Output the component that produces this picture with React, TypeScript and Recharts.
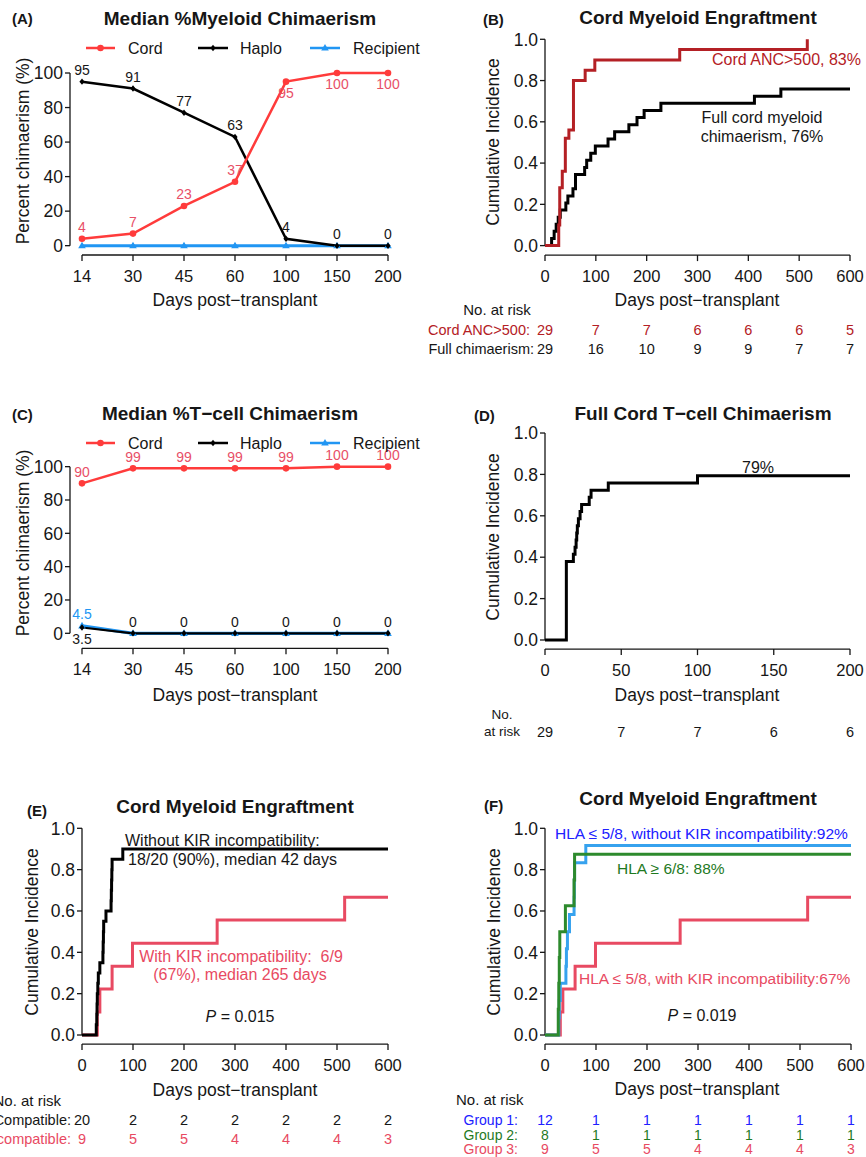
import React from 'react';
import { LineChart, Line, XAxis, YAxis, ReferenceLine } from 'recharts';

const FONT = '"Liberation Sans", Arial, Helvetica, sans-serif';
const INK = '#161616';
const CORD_LINE = '#ff3b3b';
const CORD_TEXT = '#e84f67';
const RECIP_LINE = '#2196f3';
const ANC_RED = '#b42025';
const KIR_RED = '#e84a62';
const G1_LINE = '#36a2ee';
const G1_TEXT = '#2020ff';
const G2_LINE = '#2d8a2d';
const G2_TEXT = '#1f7a1f';

// (A) / (C) median chimaerism per visit
const visitDays = ['14', '30', '45', '60', '100', '150', '200'];
const myeloidCord = [4, 7, 23, 37, 95, 100, 100];
const myeloidHaplo = [95, 91, 77, 63, 4, 0, 0];
const myeloidRecipient = [0, 0, 0, 0, 0, 0, 0];
const tcellCord = [90, 99, 99, 99, 99, 100, 100];
const tcellHaplo = [3.5, 0, 0, 0, 0, 0, 0];
const tcellRecipient = [4.5, 0, 0, 0, 0, 0, 0];
const pctTicks = [0, 20, 40, 60, 80, 100];

// (B) cord myeloid engraftment: step times (days) and cumulative incidence
const ancDays = [0, 27, 29, 34, 40, 47, 56, 79, 98, 265, 516];
const ancCI = [0, 0.1, 0.28, 0.36, 0.52, 0.56, 0.8, 0.85, 0.9, 0.95, 1.0];
const fullMyeloidDays = [0, 13, 18, 22, 26, 30, 41, 45, 55, 60, 78, 82, 90, 99, 124, 137, 165, 181, 195, 228, 412, 464, 600];
const fullMyeloidCI = [0, 0.034, 0.069, 0.103, 0.138, 0.172, 0.207, 0.241, 0.276, 0.345, 0.379, 0.414, 0.448, 0.483, 0.517, 0.552, 0.586, 0.621, 0.655, 0.69, 0.724, 0.759, 0.759];
const days600 = [0, 100, 200, 300, 400, 500, 600];
const ancAtRisk = [29, 7, 7, 6, 6, 6, 5];
const fullAtRisk = [29, 16, 10, 9, 9, 7, 7];

// (D) full cord T-cell chimaerism
const tcellDays = [0, 14, 18.6, 19.7, 20.4, 20.8, 21.2, 21.9, 23, 24, 29, 30.2, 41.5, 100, 200];
const tcellCI = [0, 0.379, 0.414, 0.448, 0.483, 0.517, 0.552, 0.586, 0.621, 0.655, 0.69, 0.724, 0.759, 0.793, 0.793];
const days200 = [0, 50, 100, 150, 200];
const tcellAtRisk = [29, 7, 7, 6, 6];

// (E) by KIR incompatibility
const kirCompDays = [0, 28, 29, 29.5, 30, 31, 32, 35, 41, 41.5, 42, 42.5, 47, 57, 57.5, 58, 58.5, 59, 80, 600];
const kirCompCI = [0, 0.05, 0.1, 0.15, 0.2, 0.25, 0.3, 0.35, 0.4, 0.45, 0.5, 0.55, 0.6, 0.65, 0.7, 0.75, 0.8, 0.85, 0.9, 0.9];
const kirIncompDays = [0, 30, 35, 59, 99, 265, 515, 600];
const kirIncompCI = [0, 0.111, 0.222, 0.333, 0.444, 0.556, 0.667, 0.667];
const compAtRisk = [20, 2, 2, 2, 2, 2, 2];
const incompAtRisk = [9, 5, 5, 4, 4, 4, 3];

// (F) by HLA match group (group 3 = HLA <= 5/8 with KIR incompatibility)
const group1Days = [0, 27, 28, 30, 41, 42, 44, 48, 57, 57.5, 58, 80, 600];
const group1CI = [0, 0.083, 0.167, 0.25, 0.333, 0.417, 0.5, 0.583, 0.667, 0.75, 0.833, 0.917, 0.917];
const group2Days = [0, 26, 27, 28, 29, 40, 57, 58, 600];
const group2CI = [0, 0.125, 0.25, 0.375, 0.5, 0.625, 0.75, 0.875, 0.875];
const group1AtRisk = [12, 1, 1, 1, 1, 1, 1];
const group2AtRisk = [8, 1, 1, 1, 1, 1, 1];
const group3AtRisk = [9, 5, 5, 4, 4, 4, 3];

const ciTicks = [0, 0.2, 0.4, 0.6, 0.8, 1];

const steps = (t: number[], v: number[]) => t.map((d, i) => ({ t: d, v: v[i] }));
const visits = (cord: number[], haplo: number[], recipient: number[]) =>
  visitDays.map((day, i) => ({ day, cord: cord[i], haplo: haplo[i], recipient: recipient[i] }));

type Shape = 'circle' | 'diamond' | 'triangle';
type Place = 'above' | 'below' | null;

function marker(shape: Shape, cx: number, cy: number, color: string) {
  if (shape === 'circle') return <circle cx={cx} cy={cy} r={3.3} fill={color} />;
  if (shape === 'diamond')
    return <polygon points={`${cx},${cy - 3.2} ${cx + 2.6},${cy} ${cx},${cy + 3.2} ${cx - 2.6},${cy}`} fill={color} />;
  return <polygon points={`${cx},${cy - 4} ${cx + 3.8},${cy + 2.6} ${cx - 3.8},${cy + 2.6}`} fill={color} />;
}

interface VisitSeries {
  key: 'cord' | 'haplo' | 'recipient';
  color: string;
  text: string;
  width: number;
  shape: Shape;
  place: (i: number) => Place;
}

function makeDot(s: VisitSeries) {
  return (p: any) => {
    const { cx, cy, index, payload } = p;
    if (cx == null || cy == null) return <g key={`e${index}`} />;
    const where = s.place(index);
    return (
      <g key={`${s.key}${index}`}>
        {marker(s.shape, cx, cy, s.color)}
        {where && (
          <text
            x={cx}
            y={where === 'above' ? cy - 11.5 : cy + 11.5}
            dy="0.35em"
            textAnchor="middle"
            fontSize={14}
            fill={s.text}
          >
            {payload[s.key]}
          </text>
        )}
      </g>
    );
  };
}

function YTick(p: any) {
  const { x, y, payload, off, digits } = p;
  const ax = x - off;
  const label = digits ? Number(payload.value).toFixed(digits) : String(payload.value);
  return (
    <g>
      <line x1={ax} x2={ax - 5} y1={y} y2={y} stroke={INK} strokeWidth={1.3} />
      <text x={ax - 7} y={y} dy="0.36em" textAnchor="end" fontSize={17.5} fill={INK}>
        {label}
      </text>
    </g>
  );
}

const axisStroke = { stroke: INK, strokeWidth: 1.3 };

function ChimaerismPanel(props: {
  left: number;
  top: number;
  height: number;
  marginTop: number;
  marginBottom: number;
  yMin: number;
  data: ReturnType<typeof visits>;
  series: VisitSeries[];
}) {
  const { left, top, height, marginTop, marginBottom, yMin, data, series } = props;
  return (
    <div style={{ position: 'absolute', left, top }}>
      <LineChart
        width={430}
        height={height}
        data={data}
        margin={{ top: marginTop, right: 42, bottom: marginBottom, left: 22 }}
      >
        <XAxis
          dataKey="day"
          type="category"
          interval={0}
          height={30}
          tickSize={6}
          tickMargin={9}
          axisLine={axisStroke}
          tickLine={axisStroke}
          tick={{ fill: INK, fontSize: 16.5 }}
        />
        <YAxis
          type="number"
          domain={[yMin, 104]}
          ticks={pctTicks}
          interval={0}
          width={60}
          axisLine={false}
          tickLine={false}
          tickSize={0}
          tickMargin={0}
          tick={(p: any) => <YTick {...p} off={12} digits={0} />}
        />
        <ReferenceLine
          segment={[
            { x: '14', y: 0 },
            { x: '14', y: 100 },
          ]}
          ifOverflow="visible"
          shape={(p: any) => (
            <line x1={p.x1 - 12} y1={p.y1} x2={p.x2 - 12} y2={p.y2} stroke={INK} strokeWidth={1.3} />
          )}
        />
        {series.map((s) => (
          <Line
            key={s.key}
            dataKey={s.key}
            type="linear"
            stroke={s.color}
            strokeWidth={s.width}
            dot={makeDot(s)}
            activeDot={false}
            isAnimationActive={false}
          />
        ))}
      </LineChart>
    </div>
  );
}

interface RiskRow {
  label: string;
  values: number[];
  color: string;
  gap: number;
  h: number;
  size: number;
}

const riskTick = (row: RiskRow) => (p: any) => {
  const { x, y, index } = p;
  const cy = y + 10;
  return (
    <g>
      {index === 0 && row.label && (
        <text x={x - row.gap} y={cy} dy="0.35em" textAnchor="end" fontSize={row.size} fill={row.color}>
          {row.label}
        </text>
      )}
      <text x={x} y={cy} dy="0.35em" textAnchor="middle" fontSize={row.size} fill={row.color}>
        {row.values[index]}
      </text>
    </g>
  );
};

interface CurveDef {
  name: string;
  data: { t: number; v: number }[];
  color: string;
}

function KMPanel(props: {
  left: number;
  top: number;
  width: number;
  height: number;
  margin: { top: number; right: number; bottom: number; left: number };
  yMin: number;
  xMax: number;
  xTicks: number[];
  mainH: number;
  curves: CurveDef[];
  rows: RiskRow[];
}) {
  const { left, top, width, height, margin, yMin, xMax, xTicks, mainH, curves, rows } = props;
  return (
    <div style={{ position: 'absolute', left, top }}>
      <LineChart width={width} height={height} margin={margin}>
        <XAxis
          xAxisId="main"
          type="number"
          dataKey="t"
          domain={[0, xMax]}
          ticks={xTicks}
          interval={0}
          height={mainH}
          tickSize={6}
          tickMargin={9}
          axisLine={axisStroke}
          tickLine={axisStroke}
          tick={{ fill: INK, fontSize: 16.5 }}
        />
        {rows.map((r, i) => (
          <XAxis
            key={`risk${i}`}
            xAxisId={`risk${i}`}
            type="number"
            dataKey="t"
            domain={[0, xMax]}
            allowDataOverflow
            ticks={xTicks}
            interval={0}
            height={r.h}
            axisLine={false}
            tickLine={false}
            tickSize={0}
            tickMargin={0}
            tick={riskTick(r)}
          />
        ))}
        <YAxis
          type="number"
          domain={[yMin, 1.03]}
          ticks={ciTicks}
          interval={0}
          width={60}
          axisLine={false}
          tickLine={false}
          tickSize={0}
          tickMargin={0}
          tick={(p: any) => <YTick {...p} off={0} digits={1} />}
        />
        <ReferenceLine
          xAxisId="main"
          segment={[
            { x: 0, y: 0 },
            { x: 0, y: 1 },
          ]}
          stroke={INK}
          strokeWidth={1.3}
          ifOverflow="visible"
        />
        {curves.map((c) => (
          <Line
            key={c.name}
            xAxisId="main"
            data={c.data}
            dataKey="v"
            name={c.name}
            type="stepAfter"
            stroke={c.color}
            strokeWidth={3}
            dot={false}
            activeDot={false}
            isAnimationActive={false}
          />
        ))}
      </LineChart>
    </div>
  );
}

function T(props: {
  x: number;
  y: number;
  children: React.ReactNode;
  size?: number;
  anchor?: 'start' | 'middle' | 'end';
  color?: string;
  bold?: boolean;
  rotate?: boolean;
}) {
  const { x, y, children, size = 16, anchor = 'middle', color = INK, bold, rotate } = props;
  return (
    <text
      x={x}
      y={y}
      fontSize={size}
      textAnchor={anchor}
      fill={color}
      fontWeight={bold ? 700 : 400}
      dominantBaseline="central"
      transform={rotate ? `rotate(-90 ${x} ${y})` : undefined}
      style={{ whiteSpace: 'pre' }}
    >
      {children}
    </text>
  );
}

function VisitLegend({ y }: { y: number }) {
  const items = [
    { x1: 86, x2: 115, tx: 128, label: 'Cord', shape: 'circle' as Shape, color: CORD_LINE },
    { x1: 198, x2: 228, tx: 240, label: 'Haplo', shape: 'diamond' as Shape, color: '#000' },
    { x1: 310, x2: 340, tx: 353, label: 'Recipient', shape: 'triangle' as Shape, color: RECIP_LINE },
  ];
  return (
    <g>
      {items.map((it) => (
        <g key={it.label}>
          <line x1={it.x1} x2={it.x2} y1={y} y2={y} stroke={it.color} strokeWidth={2.5} />
          {marker(it.shape, (it.x1 + it.x2) / 2, y, it.color)}
          <T x={it.tx} y={y} anchor="start" size={16}>
            {it.label}
          </T>
        </g>
      ))}
    </g>
  );
}

function Overlay() {
  const days = 'Days post\u2212transplant';
  return (
    <svg
      width={866}
      height={1157}
      style={{ position: 'absolute', left: 0, top: 0, pointerEvents: 'none' }}
      fontFamily={FONT}
    >
      {/* panel letters and titles */}
      <T x={12} y={18} anchor="start" size={15} bold>(A)</T>
      <T x={240} y={18} size={19} bold>Median %Myeloid Chimaerism</T>
      <T x={483} y={19} anchor="start" size={15} bold>(B)</T>
      <T x={698} y={17} size={19} bold>Cord Myeloid Engraftment</T>
      <T x={12} y={414} anchor="start" size={15} bold>(C)</T>
      <T x={230} y={413} size={19} bold>Median %T{'\u2212'}cell Chimaerism</T>
      <T x={474} y={415} anchor="start" size={15} bold>(D)</T>
      <T x={703} y={413} size={19} bold>Full Cord T{'\u2212'}cell Chimaerism</T>
      <T x={27} y={810} anchor="start" size={15} bold>(E)</T>
      <T x={235} y={806} size={19} bold>Cord Myeloid Engraftment</T>
      <T x={484} y={805} anchor="start" size={15} bold>(F)</T>
      <T x={698} y={798} size={19} bold>Cord Myeloid Engraftment</T>

      <VisitLegend y={48} />
      <VisitLegend y={443} />

      {/* axis titles */}
      <T x={23} y={151} size={17.5} rotate>Percent chimaerism (%)</T>
      <T x={23} y={543} size={17.5} rotate>Percent chimaerism (%)</T>
      <T x={493} y={142} size={17.5} rotate>Cumulative Incidence</T>
      <T x={493} y={537} size={17.5} rotate>Cumulative Incidence</T>
      <T x={32} y={932} size={17.5} rotate>Cumulative Incidence</T>
      <T x={494} y={932} size={17.5} rotate>Cumulative Incidence</T>
      <T x={235} y={300} size={17.5}>{days}</T>
      <T x={697} y={300} size={17.5}>{days}</T>
      <T x={235} y={695} size={17.5}>{days}</T>
      <T x={697} y={695} size={17.5}>{days}</T>
      <T x={235} y={1090} size={17.5}>{days}</T>
      <T x={697} y={1089} size={17.5}>{days}</T>

      {/* at-risk headers */}
      <T x={497} y={309} size={15}>No. at risk</T>
      <T x={502} y={714} size={13.5}>No.</T>
      <T x={502} y={731} size={13.5}>at risk</T>
      <T x={61} y={1100} anchor="end" size={15}>No. at risk</T>
      <T x={456} y={1099} anchor="start" size={15}>No. at risk</T>

      {/* curve annotations */}
      <T x={712} y={59} anchor="start" color={ANC_RED}>Cord ANC&gt;500, 83%</T>
      <T x={762} y={117}>Full cord myeloid</T>
      <T x={762} y={136}>chimaerism, 76%</T>
      <T x={758} y={467}>79%</T>
      <T x={125} y={840} anchor="start">Without KIR incompatibility:</T>
      <T x={128} y={859} anchor="start">18/20 (90%), median 42 days</T>
      <T x={241} y={956} color={KIR_RED}>With KIR incompatibility:  6/9</T>
      <T x={240} y={974} color={KIR_RED}>(67%), median 265 days</T>
      <T x={240} y={1016}>
        <tspan fontStyle="italic">P</tspan> = 0.015
      </T>
      <T x={555} y={833} anchor="start" size={15.5} color={G1_TEXT}>
        HLA {'\u2264'} 5/8, without KIR incompatibility:92%
      </T>
      <T x={617} y={868} anchor="start" size={15.5} color={G2_TEXT}>
        HLA {'\u2265'} 6/8: 88%
      </T>
      <T x={579} y={978} anchor="start" size={15.5} color={KIR_RED}>
        HLA {'\u2264'} 5/8, with KIR incompatibility:67%
      </T>
      <T x={702} y={1015}>
        <tspan fontStyle="italic">P</tspan> = 0.019
      </T>
    </svg>
  );
}

export default function App() {
  const myeloidData = visits(myeloidCord, myeloidHaplo, myeloidRecipient);
  const tcellData = visits(tcellCord, tcellHaplo, tcellRecipient);

  const myeloidSeries: VisitSeries[] = [
    { key: 'recipient', color: RECIP_LINE, text: RECIP_LINE, width: 3, shape: 'triangle', place: () => null },
    { key: 'haplo', color: '#000', text: INK, width: 2.5, shape: 'diamond', place: () => 'above' },
    { key: 'cord', color: CORD_LINE, text: CORD_TEXT, width: 2.5, shape: 'circle', place: (i) => (i >= 4 ? 'below' : 'above') },
  ];
  const tcellSeries: VisitSeries[] = [
    { key: 'recipient', color: RECIP_LINE, text: RECIP_LINE, width: 3.2, shape: 'triangle', place: (i) => (i === 0 ? 'above' : null) },
    { key: 'haplo', color: '#000', text: INK, width: 2.2, shape: 'diamond', place: (i) => (i === 0 ? 'below' : 'above') },
    { key: 'cord', color: CORD_LINE, text: CORD_TEXT, width: 2.5, shape: 'circle', place: () => 'above' },
  ];

  return (
    <div
      style={{
        position: 'absolute',
        left: 0,
        top: 0,
        width: 866,
        height: 1157,
        background: '#fff',
        fontFamily: FONT,
        overflow: 'hidden',
      }}
    >
      <ChimaerismPanel
        left={0}
        top={0}
        height={390}
        marginTop={66.1}
        marginBottom={105}
        yMin={-5.4}
        data={myeloidData}
        series={myeloidSeries}
      />
      <ChimaerismPanel
        left={0}
        top={390}
        height={380}
        marginTop={70}
        marginBottom={91.7}
        yMin={-9}
        data={tcellData}
        series={tcellSeries}
      />
      <KMPanel
        left={420}
        top={0}
        width={446}
        height={390}
        margin={{ top: 33.1, right: 16, bottom: 31.9, left: 65 }}
        yMin={-0.046}
        xMax={600}
        xTicks={days600}
        mainH={65}
        curves={[
          { name: 'full', data: steps(fullMyeloidDays, fullMyeloidCI), color: '#000' },
          { name: 'anc', data: steps(ancDays, ancCI), color: ANC_RED },
        ]}
        rows={[
          { label: 'Cord ANC>500:', values: ancAtRisk, color: ANC_RED, gap: 15, h: 19, size: 14.5 },
          { label: 'Full chimaerism:', values: fullAtRisk, color: INK, gap: 11, h: 19, size: 14.5 },
        ]}
      />
      <KMPanel
        left={420}
        top={390}
        width={446}
        height={380}
        margin={{ top: 36.8, right: 16, bottom: 28.9, left: 65 }}
        yMin={-0.044}
        xMax={200}
        xTicks={days200}
        mainH={73}
        curves={[{ name: 'tcell', data: steps(tcellDays, tcellCI), color: '#000' }]}
        rows={[{ label: '', values: tcellAtRisk, color: INK, gap: 0, h: 19, size: 14.5 }]}
      />
      <KMPanel
        left={0}
        top={770}
        width={430}
        height={387}
        margin={{ top: 52.1, right: 42, bottom: 8.9, left: 22 }}
        yMin={-0.044}
        xMax={600}
        xTicks={days600}
        mainH={66}
        curves={[
          { name: 'incomp', data: steps(kirIncompDays, kirIncompCI), color: KIR_RED },
          { name: 'comp', data: steps(kirCompDays, kirCompCI), color: '#000' },
        ]}
        rows={[
          { label: 'Compatible:', values: compAtRisk, color: INK, gap: 11, h: 19, size: 14.5 },
          { label: 'Incompatible:', values: incompAtRisk, color: KIR_RED, gap: 11, h: 19, size: 14.5 },
        ]}
      />
      <KMPanel
        left={420}
        top={770}
        width={446}
        height={387}
        margin={{ top: 52.1, right: 15, bottom: 3.4, left: 65 }}
        yMin={-0.044}
        xMax={600}
        xTicks={days600}
        mainH={66}
        curves={[
          { name: 'g3', data: steps(kirIncompDays, kirIncompCI), color: KIR_RED },
          { name: 'g1', data: steps(group1Days, group1CI), color: G1_LINE },
          { name: 'g2', data: steps(group2Days, group2CI), color: G2_LINE },
        ]}
        rows={[
          { label: 'Group 1:', values: group1AtRisk, color: G1_TEXT, gap: 27, h: 14.5, size: 14 },
          { label: 'Group 2:', values: group2AtRisk, color: G2_TEXT, gap: 27, h: 14.5, size: 14 },
          { label: 'Group 3:', values: group3AtRisk, color: KIR_RED, gap: 27, h: 14.5, size: 14 },
        ]}
      />
      <Overlay />
    </div>
  );
}
